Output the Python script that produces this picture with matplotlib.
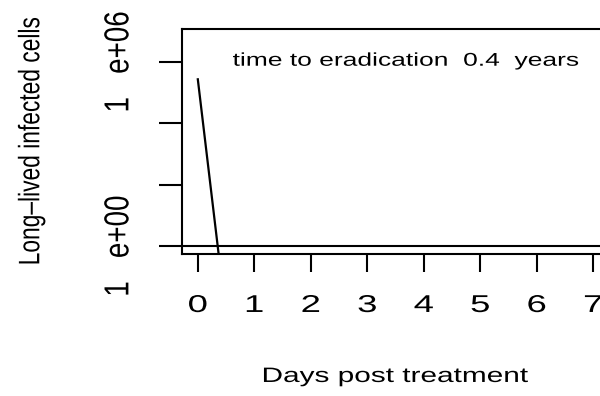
import numpy as np
import matplotlib
matplotlib.use("Agg")
import matplotlib.pyplot as plt
from matplotlib.patheffects import AbstractPathEffect
from matplotlib.transforms import Affine2D

# decay of the long-lived reservoir after treatment
days = [0.0, 0.4]
cells = [2.7e5, 0.18]
threshold = 1.0
t_erad = 0.4

x_ticks = [0, 1, 2, 3, 4, 5, 6, 7]
y_ticks = [1e0, 1e2, 1e4, 1e6]
y_ticklabels = ["1   e+00", "", "", "1   e+06"]


class Widen(AbstractPathEffect):
    """Stretch glyph outlines horizontally about their ink centre."""

    def __init__(self, sx=1.4):
        super().__init__()
        self.sx = sx

    def draw_path(self, renderer, gc, tpath, affine, rgbFace=None):
        ext = tpath.get_extents(affine)
        cx, cy = ext.x0 + ext.width / 2, ext.y0 + ext.height / 2
        st = Affine2D().translate(-cx, -cy).scale(self.sx, 1).translate(cx, cy)
        renderer.draw_path(gc, tpath, affine + st, rgbFace)


plt.rcParams.update({"font.family": "Liberation Sans", "axes.linewidth": 1.5})
W, H = 600, 396
fig = plt.figure(figsize=(W / 100, H / 100), dpi=100)
ax = fig.add_axes([182 / W, (H - 254) / H, 427 / W, 225 / H])

ax.plot(days, cells, color="black", lw=1.6)
ax.axhline(threshold, color="black", lw=1.5)
ax.set_yscale("log")
ax.set_xlim(-0.28, 7.28)
ax.set_ylim(10 ** -0.26, 10 ** 7.07)

ax.set_xticks(x_ticks, labels=[str(t) for t in x_ticks])
ax.set_yticks(y_ticks, labels=y_ticklabels)
ax.yaxis.set_minor_locator(matplotlib.ticker.NullLocator())
ax.tick_params(axis="x", direction="out", length=13, width=1.5, pad=16.5, labelsize=17.5)
ax.tick_params(axis="y", direction="out", length=16.5, width=1.5, pad=19.5, labelsize=20)
for lbl in ax.get_yticklabels():
    lbl.set_rotation(90)
    lbl.set_va("center")
    lbl.set_path_effects([Widen(1.25)])
for lbl in ax.get_xticklabels():
    lbl.set_path_effects([Widen(1.5)])

ax.text(3.68, 10 ** 6.02, f"time to eradication  {t_erad}  years", ha="center", va="center",
        fontsize=13.3, path_effects=[Widen(1.43)])

ax.set_xlabel("Days post treatment", fontsize=15, labelpad=36, path_effects=[Widen(1.43)])
fig.text(31 / W, 1 - 141 / H, "Long\u2013lived infected cells", rotation=90, ha="center", va="center",
         fontsize=16.4, path_effects=[Widen(1.3)])

fig.savefig("out.png", dpi=100)
